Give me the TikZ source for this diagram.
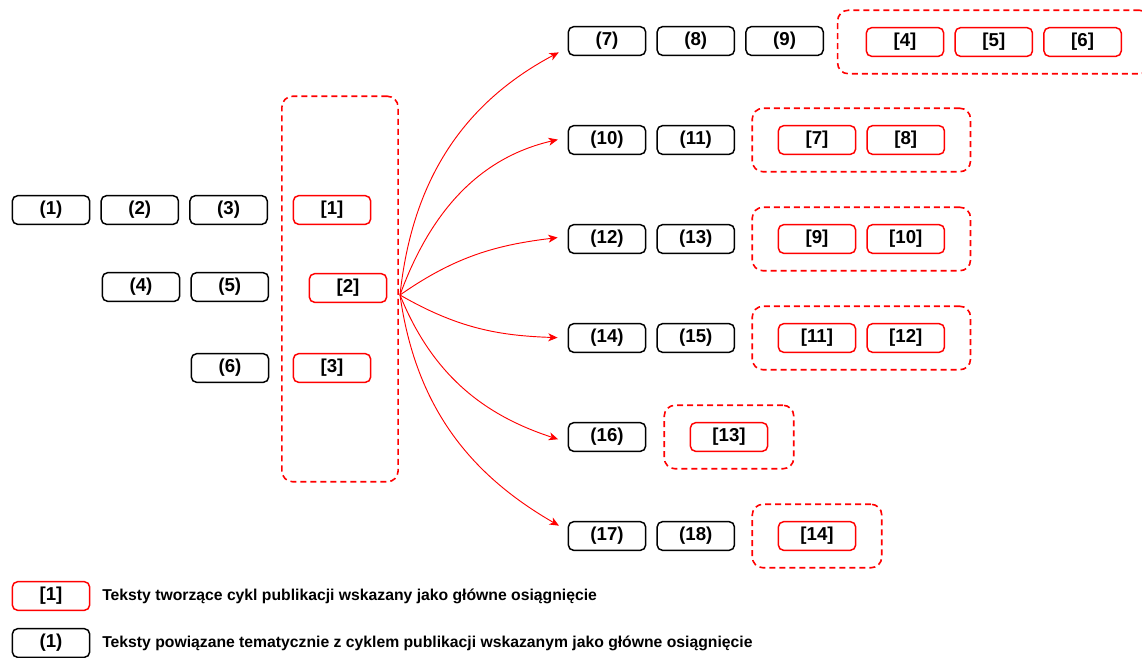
\documentclass[tikz,border=0pt]{standalone}
\usepackage{fontspec}
\setmainfont{Liberation Sans}
\usetikzlibrary{positioning}
\usetikzlibrary{fit}
\usetikzlibrary{arrows.meta}
\tikzset{
    mynodeb/.style = {rectangle, rounded corners=4pt, line width=1.1pt, draw=black, align=center, inner sep=0pt, minimum width=58pt, minimum height=21.5pt, font=\bfseries\fontsize{14}{16}\selectfont, text=black},
    mynoder/.style = {mynodeb, draw=red},
    groupr/.style = {rectangle, rounded corners=8pt, line width=1.2pt, draw=red, dash pattern=on 4.5pt off 3pt, inner xsep=19pt, inner ysep=12.5pt},
    edger/.style = {-{Stealth[length=7pt,width=6pt,inset=2pt]}, line width=0.7pt, red, shorten >=7.5pt},
    legtext/.style = {anchor=west, font=\bfseries\fontsize{11.8}{14}\selectfont, inner sep=0pt}
}

\begin{document}
\begin{tikzpicture}[x=0.75pt, y=-0.75pt]
  \useasboundingbox (0,0) rectangle (1142,657);
  % left block
  \node[mynodeb] (n1) at (51,210) {(1)};
  \node[mynodeb, right=7.5pt of n1] (n2) {(2)};
  \node[mynodeb, right=7.5pt of n2] (n3) {(3)};
  \node[mynodeb] (n4) at (141,287) {(4)};
  \node[mynodeb, right=7.5pt of n4] (n5) {(5)};
  \node[mynodeb] (n6) at (230,368) {(6)};
  \node[mynoder] (r1) at (332,210) {[1]};
  \node[mynoder] (r2) at (348,288) {[2]};
  \node[mynoder] (r3) at (332,368) {[3]};
  \node[groupr, inner xsep=8pt, inner ysep=74pt, fit=(r1)(r2)(r3)] (gmain) {};
  \coordinate (src) at (400,295);

  % right rows
  \node[mynodeb] (n7) at (607,41) {(7)};
  \node[mynodeb, right=7.5pt of n7] (n8) {(8)};
  \node[mynodeb, right=7.5pt of n8] (n9) {(9)};
  \node[mynoder] (r4) at (905,42) {[4]};
  \node[mynoder, right=7.5pt of r4] (r5) {[5]};
  \node[mynoder, right=7.5pt of r5] (r6) {[6]};
  \node[groupr, inner xsep=21pt, fit=(r4)(r6)] (g1) {};

  \node[mynodeb] (n10) at (607,140) {(10)};
  \node[mynodeb, right=7.5pt of n10] (n11) {(11)};
  \node[mynoder] (r7) at (817,140) {[7]};
  \node[mynoder, right=7.5pt of r7] (r8) {[8]};
  \node[groupr, fit=(r7)(r8)] (g2) {};

  \node[mynodeb] (n12) at (607,239) {(12)};
  \node[mynodeb, right=7.5pt of n12] (n13) {(13)};
  \node[mynoder] (r9) at (817,239) {[9]};
  \node[mynoder, right=7.5pt of r9] (r10) {[10]};
  \node[groupr, fit=(r9)(r10)] (g3) {};

  \node[mynodeb] (n14) at (607,338) {(14)};
  \node[mynodeb, right=7.5pt of n14] (n15) {(15)};
  \node[mynoder] (r11) at (817,338) {[11]};
  \node[mynoder, right=7.5pt of r11] (r12) {[12]};
  \node[groupr, fit=(r11)(r12)] (g4) {};

  \node[mynodeb] (n16) at (607,437) {(16)};
  \node[mynoder] (r13) at (729,437) {[13]};
  \node[groupr, fit=(r13)] (g5) {};

  \node[mynodeb] (n17) at (607,536) {(17)};
  \node[mynodeb, right=7.5pt of n17] (n18) {(18)};
  \node[mynoder] (r14) at (817,536) {[14]};
  \node[groupr, fit=(r14)] (g6) {};

  % arrows
  \draw[edger] (src) to[out=84, in=208] ([yshift=-5pt]n7.west);
  \draw[edger] (src) to[out=70, in=193] ([yshift=2pt]n10.west);
  \draw[edger] (src) to[out=35, in=187] ([yshift=2pt]n12.west);
  \draw[edger] (src) to[out=-30, in=178] (n14.west);
  \draw[edger] (src) to[out=-68, in=162] ([yshift=-4pt]n16.west);
  \draw[edger] (src) to[out=-82, in=150] ([yshift=4pt]n17.west);

  % legend
  \node[mynoder] (lr) at (51,596) {[1]};
  \node[mynodeb] (lb) at (51,643) {(1)};
  \node[legtext] (lrt) at (102,596) {Teksty tworzące cykl publikacji wskazany jako główne osiągnięcie};
  \node[legtext] (lbt) at (102,643) {Teksty powiązane tematycznie z cyklem publikacji wskazanym jako główne osiągnięcie};
\end{tikzpicture}
\end{document}
